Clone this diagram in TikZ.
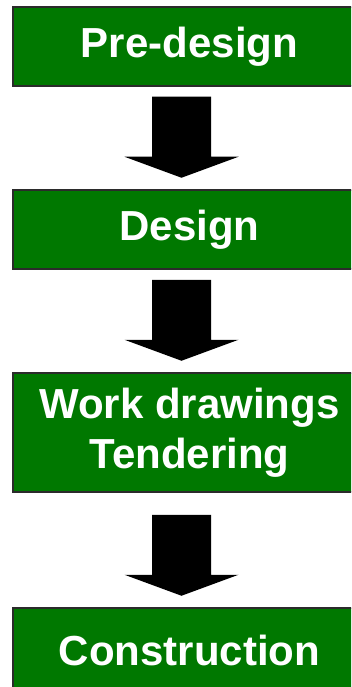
\documentclass[tikz,border=0pt]{standalone}
\usepackage{fontspec}
\setmainfont{Liberation Sans}
\usetikzlibrary{positioning,calc}
\definecolor{StageGreen}{HTML}{007800}
\definecolor{StageEdge}{HTML}{2B2B2B}

\begin{document}
\begin{tikzpicture}[x=1pt, y=1pt,
    stagebox/.style={rectangle, draw=StageEdge, line width=1.5pt, fill=StageGreen,
      text=white, inner sep=0pt, align=center, minimum width=353pt,
      font=\fontsize{42}{50}\selectfont\bfseries},
    blockarrow/.pic={\fill[black] (0,0) -- (57,21) -- (29.5,21) -- (29.5,81)
      -- (-29.5,81) -- (-29.5,21) -- (-57,21) -- cycle;}]
  \useasboundingbox (0,0) rectangle (351,-687);
  \clip (0,0) rectangle (351,-687);
  \node[stagebox, minimum height=79pt] (predesign) at (189.5,-46.5) {Pre-design};
  \node[stagebox, minimum height=79pt] (design) at (189.5,-229.5) {Design};
  \node[stagebox, minimum height=119pt] (work) at (189.5,-432.5) {Work drawings\\Tendering};
  \node[stagebox, minimum height=84pt] (construction) at (189.5,-650) {Construction};
  \coordinate (axis) at (181.5,0);
  % block arrows, tip just above the next stage
  \foreach \nxt in {design,work,construction}
    \pic at ([yshift=11.5pt]\nxt.north -| axis) {blockarrow};
\end{tikzpicture}
\end{document}
